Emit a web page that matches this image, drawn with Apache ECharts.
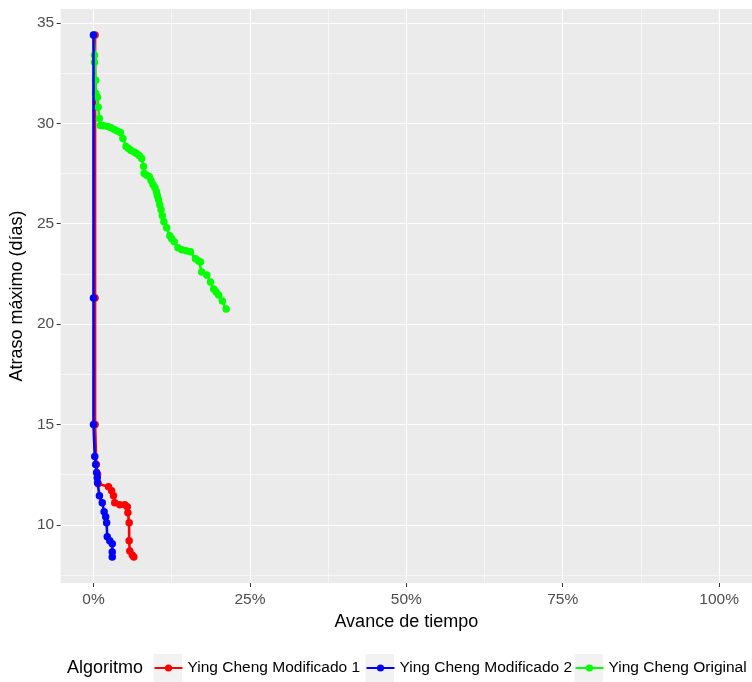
<!DOCTYPE html>
<html>
<head>
<meta charset="utf-8">
<script src="https://cdn.jsdelivr.net/npm/echarts@6/dist/echarts.min.js"></script>
<style>
html,body{margin:0;padding:0;background:#fff;}
#chart{width:752px;height:682px;}
</style>
</head>
<body>
<div id="chart"></div>
<script>
// ---- data (x = Avance de tiempo in %, y = Atraso máximo in días) ----
const seriesNames = ['Ying Cheng Modificado 1', 'Ying Cheng Modificado 2', 'Ying Cheng Original'];
const seriesColors = ['#FF0000', '#0000FF', '#00FF00'];

const mod1X = [0.25, 0.25, 0.25, 0.45, 0.65, 0.75, 2.4, 2.9, 3.2, 3.4, 4.2, 5.0, 5.4, 5.5, 5.7, 5.7, 5.8, 6.2, 6.45];
const mod1Y = [34.4, 21.3, 15.0, 13.0, 12.5, 12.05, 11.9, 11.7, 11.45, 11.1, 11.0, 11.0, 10.9, 10.6, 10.1, 9.2, 8.7, 8.5, 8.4];

const mod2X = [0, 0, 0, 0.2, 0.35, 0.5, 0.6, 0.65, 0.95, 1.4, 1.7, 1.95, 2.1, 2.2, 2.6, 3.0, 3.0, 3.0];
const mod2Y = [34.4, 21.3, 15.0, 13.4, 13.0, 12.6, 12.35, 12.1, 11.45, 11.1, 10.65, 10.4, 10.1, 9.4, 9.2, 9.05, 8.65, 8.4];

const origX = [0, 0.16, 0.16, 0.36, 0.36, 0.63, 0.74, 0.95, 1.1, 1.6, 2.3, 2.8, 3.3, 3.8, 4.3, 4.7, 5.2, 5.6, 6.0, 6.5, 6.9, 7.3, 7.7, 8.0, 8.1, 8.5, 8.9,
               9.2, 9.5, 9.8, 10.05, 10.2, 10.4, 10.6, 10.8, 11.0, 11.25, 11.7, 12.2, 12.5, 12.9, 13.5, 14.1, 14.8, 15.5, 16.3, 16.8, 17.1, 17.3, 18.1, 18.7, 19.2, 19.6, 20.0, 20.6, 21.2];
const origY = [34.4, 33.4, 33.05, 32.15, 31.5, 31.3, 30.8, 30.25, 29.9, 29.88, 29.85, 29.78, 29.7, 29.62, 29.55, 29.25, 28.85, 28.75, 28.65, 28.57, 28.5, 28.4, 28.25, 27.85, 27.5, 27.42, 27.35,
               27.15, 26.95, 26.8, 26.6, 26.4, 26.2, 25.95, 25.7, 25.4, 25.1, 24.8, 24.4, 24.25, 24.1, 23.8, 23.7, 23.65, 23.6, 23.25, 23.15, 23.1, 22.6, 22.45, 22.1, 21.75, 21.6, 21.45, 21.15, 20.75];

const xTicks = [0, 25, 50, 75, 100];
const xMinor = [12.5, 37.5, 62.5, 87.5];
const yTicks = [10, 15, 20, 25, 30, 35];
const yMinor = [7.5, 12.5, 17.5, 22.5, 27.5, 32.5];
// -------------------------------------------------------------------

function pairs(xs, ys) { return xs.map((x, i) => [x, ys[i]]); }

const FONT = 'Liberation Sans, Arial, sans-serif';
const chart = echarts.init(document.getElementById('chart'), null, {renderer: 'canvas'});

const gridLines = [];
xTicks.forEach(v => gridLines.push({xAxis: v, lineStyle: {width: 1.1}}));
xMinor.forEach(v => gridLines.push({xAxis: v, lineStyle: {width: 0.55}}));
yTicks.forEach(v => gridLines.push({yAxis: v, lineStyle: {width: 1.1}}));
yMinor.forEach(v => gridLines.push({yAxis: v, lineStyle: {width: 0.55}}));

function dataSeries(i, xs, ys, z) {
  return {
    name: seriesNames[i],
    type: 'line',
    data: pairs(xs, ys),
    z: z,
    symbol: 'circle',
    symbolSize: 7.5,
    showSymbol: true,
    lineStyle: {color: seriesColors[i], width: 2.6},
    itemStyle: {color: seriesColors[i]},
    emphasis: {disabled: true},
    animation: false
  };
}

const legendLefts = [153.5, 365.5, 574.5];
const legends = seriesNames.map((n, i) => ({
  data: [n],
  left: legendLefts[i], top: 660, padding: 0,
  itemWidth: 28, itemHeight: 9, itemGap: 0,
  textStyle: {fontFamily: FONT, fontSize: 15.5, color: '#000'},
  selectedMode: false
}));

const keyRects = legendLefts.map(l => ({
  type: 'rect', left: l, top: 654, z: -1,
  shape: {width: 28.5, height: 28},
  style: {fill: '#F2F2F2'}
}));

chart.setOption({
  animation: false,
  backgroundColor: '#FFFFFF',
  grid: {
    left: 58.5, right: -4, top: 9, bottom: 99,
    show: true, backgroundColor: '#EBEBEB', borderWidth: 0,
    containLabel: false
  },
  xAxis: {
    type: 'value', min: -5.25, max: 105.25, position: 'bottom',
    name: 'Avance de tiempo', nameLocation: 'middle', nameGap: 30,
    nameTextStyle: {fontFamily: FONT, fontSize: 18, color: '#000'},
    axisLine: {show: false, onZero: false},
    axisTick: {show: true, length: 4, customValues: xTicks, lineStyle: {color: '#333', width: 1}},
    axisLabel: {customValues: xTicks, formatter: v => v + '%', fontFamily: FONT, fontSize: 15.5, color: '#4D4D4D', margin: 9},
    splitLine: {show: false}
  },
  yAxis: {
    type: 'value', min: 7.1, max: 35.7, position: 'left',
    name: 'Atraso máximo (días)', nameLocation: 'middle', nameGap: 26, nameRotate: 90,
    nameTextStyle: {fontFamily: FONT, fontSize: 18, color: '#000'},
    axisLine: {show: false, onZero: false},
    axisTick: {show: true, length: 4, customValues: yTicks, lineStyle: {color: '#333', width: 1}},
    axisLabel: {customValues: yTicks, fontFamily: FONT, fontSize: 15.5, color: '#4D4D4D', margin: 6.5},
    splitLine: {show: false}
  },
  legend: legends,
  graphic: [
    {type: 'text', left: 67, top: 659, style: {text: 'Algoritmo', font: '18px ' + FONT, fill: '#000'}}
  ].concat(keyRects),
  series: [
    {
      type: 'line', data: [], z: 0, silent: true,
      markLine: {silent: true, z: 0, symbol: 'none', label: {show: false}, animation: false,
        lineStyle: {color: '#FFFFFF', type: 'solid', width: 1.1}, emphasis: {disabled: true},
        data: gridLines}
    },
    dataSeries(0, mod1X, mod1Y, 2),
    dataSeries(2, origX, origY, 3),
    dataSeries(1, mod2X, mod2Y, 4)
  ]
});
</script>
</body>
</html>
